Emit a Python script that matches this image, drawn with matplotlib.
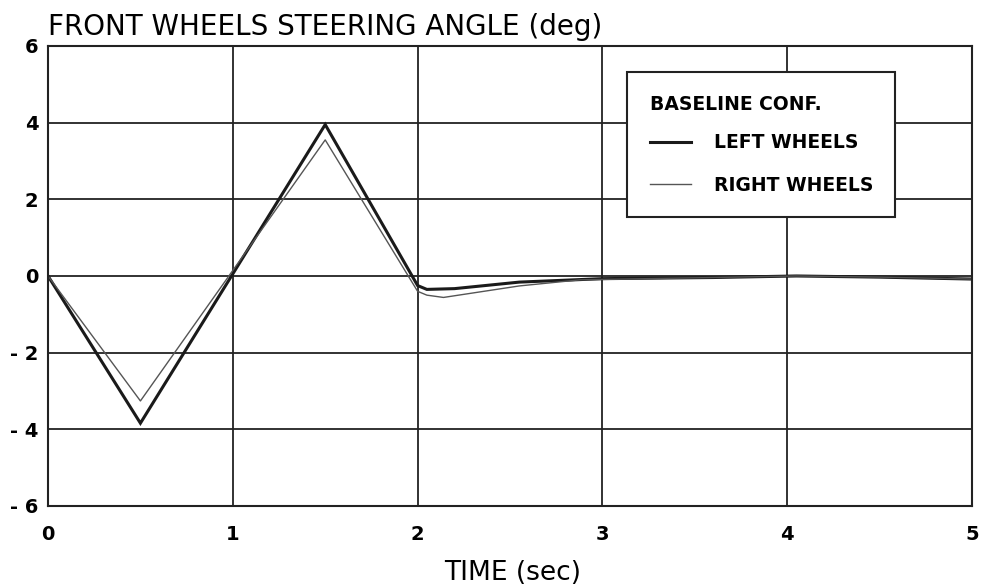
import matplotlib
matplotlib.use("Agg")
import matplotlib.pyplot as plt
from matplotlib.lines import Line2D

plt.rcParams['font.family'] = ['DejaVu Sans']

# time (sec) / steering angle (deg)
t_left = [0.0, 0.5, 1.5, 2.0, 2.05, 2.2, 2.55, 3.0, 3.6, 4.05, 4.5, 5.0]
left_wheels = [0.0, -3.84, 3.95, -0.25, -0.35, -0.33, -0.16, -0.07, -0.04, 0.0, -0.03, -0.08]

t_right = [0.0, 0.5, 1.5, 2.0, 2.05, 2.14, 2.55, 2.88, 3.6, 4.05, 4.5, 5.0]
right_wheels = [0.0, -3.26, 3.55, -0.4, -0.5, -0.56, -0.26, -0.1, -0.04, 0.0, -0.03, -0.08]

x_ticks = [0, 1, 2, 3, 4, 5]
y_ticks = [-6, -4, -2, 0, 2, 4, 6]
y_ticklabels = ["- 6", "- 4", "- 2", "0", "2", "4", "6"]

fig = plt.figure(figsize=(9.86, 5.88), dpi=100)
ax = fig.add_axes([0.0487, 0.1395, 0.9371, 0.7823])

ax.plot(t_left, left_wheels, color="#1a1a1a", lw=2.2, solid_joinstyle="miter")
ax.plot(t_right, right_wheels, color="#555555", lw=1.0)

ax.set_xlim(0, 5)
ax.set_ylim(-6, 6)
ax.set_xticks(x_ticks)
ax.set_yticks(y_ticks)
ax.set_yticklabels(y_ticklabels)
ax.grid(True, color="#222222", lw=1.3)
ax.tick_params(length=0, labelsize=14)
ax.tick_params(axis="x", pad=14)
ax.tick_params(axis="y", pad=7)
for lab in ax.get_xticklabels() + ax.get_yticklabels():
    lab.set_fontweight("bold")
for sp in ax.spines.values():
    sp.set_color("#222222")
    sp.set_linewidth(1.5)

fig.text(0.0487, 0.93, "FRONT WHEELS STEERING ANGLE (deg)", fontsize=20,
         ha="left", va="bottom")
fig.text(0.52, 0.003, "TIME (sec)", fontsize=19, ha="center", va="bottom")

handles = [Line2D([], [], color="#1a1a1a", lw=2.2),
           Line2D([], [], color="#555555", lw=1.0)]
leg = ax.legend(handles, ["LEFT WHEELS", "RIGHT WHEELS"],
                title="BASELINE CONF.", loc="upper left",
                bbox_to_anchor=(0.627, 0.943), borderaxespad=0,
                fancybox=False, framealpha=1, edgecolor="#222222",
                handlelength=2.2, handletextpad=1.2, borderpad=1.2,
                labelspacing=1.25,
                prop={"size": 13.5, "weight": "bold"},
                title_fontproperties={"size": 13.5, "weight": "bold"})
leg._legend_box.align = "left"
leg._legend_box.sep = 14
leg.get_frame().set_linewidth(1.5)

fig.savefig("out.png", dpi=100)
